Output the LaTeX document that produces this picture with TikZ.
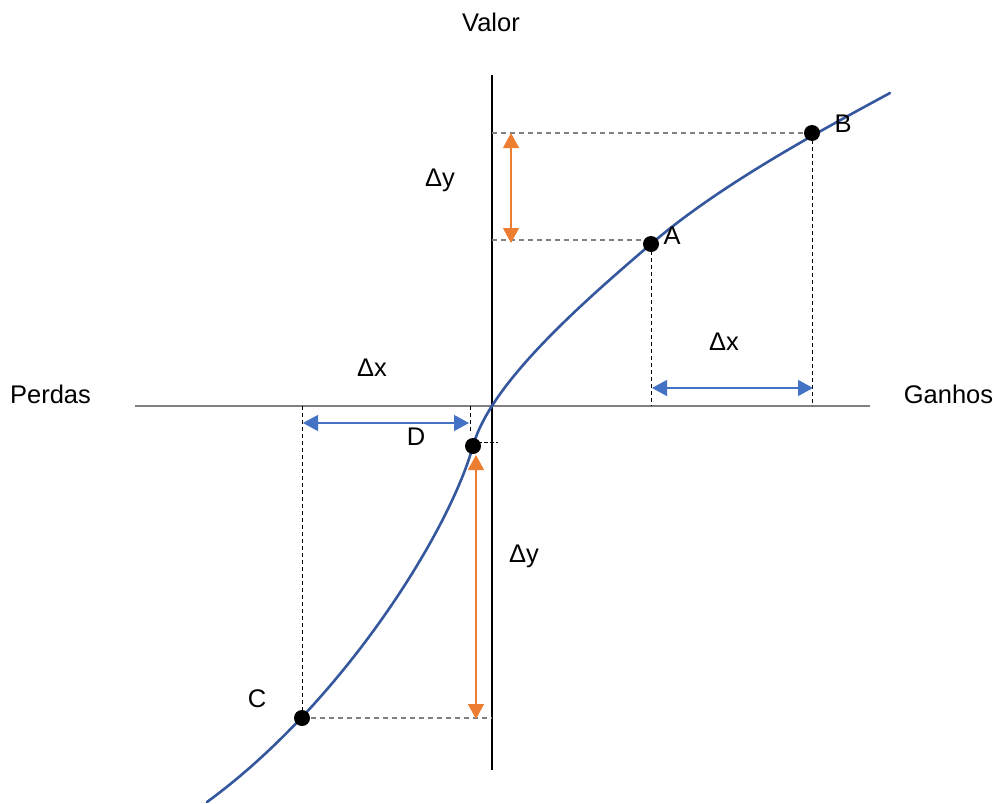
\documentclass[tikz,border=0pt]{standalone}
\usepackage{fontspec}
\setmainfont{Liberation Sans}
\usetikzlibrary{arrows.meta}
\definecolor{curveblue}{RGB}{52,87,158}
\definecolor{arrowblue}{RGB}{68,114,196}
\definecolor{arroworange}{RGB}{237,125,49}
\definecolor{axisgray}{RGB}{128,128,128}
\tikzset{
  lbl/.style={font=\fontsize{25.5}{30}\selectfont, anchor=base, inner sep=0pt},
  dot/.style={circle, fill=black, minimum size=16pt, inner sep=0pt},
  hguide/.style={draw=axisgray, line width=1.2pt, dash pattern=on 5pt off 4pt},
  vguide/.style={draw=black, line width=0.9pt, dash pattern=on 4pt off 3pt},
  oarrow/.style={draw=arroworange, line width=1.3pt, {Triangle[length=15pt,width=16pt]}-{Triangle[length=15pt,width=16pt]}},
  barrow/.style={draw=arrowblue, line width=1.3pt, {Triangle[length=15pt,width=16pt]}-{Triangle[length=15pt,width=16pt]}},
}
\begin{document}
\begin{tikzpicture}[x=1pt,y=-1pt]
\useasboundingbox (0,0) rectangle (993,803);
% axes
\coordinate (yt) at (492,75);
\coordinate (yb) at (492,770);
\coordinate (xl) at (135,406);
\coordinate (xr) at (870,406);
\draw[axisgray, line width=1.4pt] (xl) -- (xr);
\draw[black, line width=1.1pt] (yt) -- (yb);
% points
\coordinate (pA) at (651,244);
\coordinate (pB) at (812,133);
\coordinate (pC) at (302,718);
\coordinate (pD) at (473,446);
\coordinate (cs) at (207,802);
\coordinate (ce) at (890,93);
% curve
\draw[curveblue, line width=2.6pt, line cap=round]
  (cs) .. controls (340,705) and (448,535) .. (pD)
       .. controls (490,385) and (576,308) .. (pA)
       .. controls (721,184) and (820,131) .. (ce);
% guide coordinates
\coordinate (yB) at (492,133);
\coordinate (yA) at (492,240);
\coordinate (yC) at (492,718);
\coordinate (xA) at (651,406);
\coordinate (xB) at (812,406);
\coordinate (xC) at (302,406);
\coordinate (xD) at (470,406);
\coordinate (xDe) at (470,434);
\coordinate (dL) at (478,442);
\coordinate (dR) at (498,442);
\coordinate (aA) at (651,240);
% dashed guides
\draw[hguide] (yB) -- (pB);
\draw[hguide] (yA) -- (aA);
\draw[hguide] (pC) -- (yC);
\draw[vguide] (pA) -- (xA);
\draw[vguide] (pB) -- (xB);
\draw[vguide] (xC) -- (pC);
\draw[vguide] (xD) -- (xDe);
\draw[black, line width=0.9pt, dash pattern=on 4pt off 2pt] (dL) -- (dR);
% dots
\node[dot] (A) at (pA) {};
\node[dot] (B) at (pB) {};
\node[dot] (C) at (pC) {};
\node[dot] (D) at (pD) {};
% arrows
\coordinate (o1t) at (511,133);
\coordinate (o1b) at (511,243);
\coordinate (o2t) at (476,455);
\coordinate (o2b) at (476,719);
\coordinate (b1l) at (652,388);
\coordinate (b1r) at (813,388);
\coordinate (b2l) at (303,423);
\coordinate (b2r) at (469,423);
\draw[oarrow] (o1t) -- (o1b);
\draw[oarrow] (o2t) -- (o2b);
\draw[barrow] (b1l) -- (b1r);
\draw[barrow] (b2l) -- (b2r);
% labels
\node[lbl] (valor) at (491,31) {Valor};
\node[lbl] (perdas) at (50.5,403) {Perdas};
\node[lbl] (ganhos) at (948.5,403) {Ganhos};
\node[lbl] (dy1) at (440,186) {Δy};
\node[lbl] (dx1) at (724,350) {Δx};
\node[lbl] (dx2) at (372,376) {Δx};
\node[lbl] (dy2) at (524,562) {Δy};
\node[lbl] (lA) at (672,244) {A};
\node[lbl] (lB) at (843,132) {B};
\node[lbl] (lC) at (257,707) {C};
\node[lbl] (lD) at (416,445) {D};
\end{tikzpicture}
\end{document}
